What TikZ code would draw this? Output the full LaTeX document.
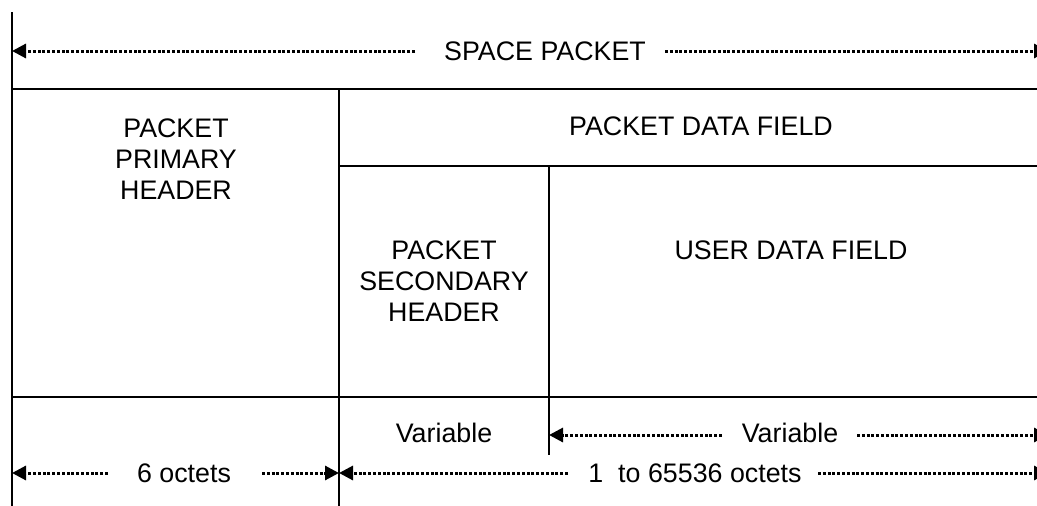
\documentclass[tikz,border=0pt]{standalone}
\usepackage{fontspec}
\setmainfont{Liberation Sans}
\usetikzlibrary{arrows.meta}
\begin{document}
\begin{tikzpicture}[x=1pt,y=-1pt,
  frame/.style={line width=2.8pt},
  dim/.style={line width=3pt, dash pattern=on 3pt off 1.8pt, -{Triangle[length=14pt,width=14pt]}},
  lbl/.style={font=\fontsize{26.8}{31}\selectfont, inner sep=0pt, align=center}]
\path[use as bounding box] (0,0) rectangle (1037,506);
\clip (0,0) rectangle (1037,506);
% frame lines
\coordinate (LT) at (12,12);
\coordinate (LB) at (12,506);
\coordinate (H1L) at (12,89);
\coordinate (H1R) at (1037,89);
\coordinate (V1T) at (339,89);
\coordinate (V1B) at (339,506);
\coordinate (H2L) at (339,166);
\coordinate (H2R) at (1037,166);
\coordinate (V2T) at (549,166);
\coordinate (V2B) at (549,455);
\coordinate (H3L) at (12,397);
\coordinate (H3R) at (1037,397);
\draw[frame] (LT) -- (LB);
\draw[frame] (H1L) -- (H1R);
\draw[frame] (V1T) -- (V1B);
\draw[frame] (H2L) -- (H2R);
\draw[frame] (V2T) -- (V2B);
\draw[frame] (H3L) -- (H3R);
% labels
\node[lbl, anchor=base] (sp) at (545,60) {SPACE PACKET};
\node[lbl] (pph) at (176,159) {PACKET\\PRIMARY\\HEADER};
\node[lbl, anchor=base] (pdf) at (701,135) {PACKET DATA FIELD};
\node[lbl] (psh) at (444,281) {PACKET\\SECONDARY\\HEADER};
\node[lbl, anchor=base] (udf) at (791,259) {USER DATA FIELD};
\node[lbl, anchor=base] (var1) at (444,442) {Variable};
\node[lbl, anchor=base] (var2) at (790,442) {Variable};
\node[lbl, anchor=base] (six) at (184,482) {6 octets};
\node[lbl, anchor=base] (oct) at (695,482) {1\ \ to 65536 octets};
% dimension arrows
\coordinate (a1) at (415,51);  \coordinate (a1t) at (12,51);
\coordinate (a2) at (665,51);  \coordinate (a2t) at (1048,51);
\coordinate (b1) at (722,435); \coordinate (b1t) at (549,435);
\coordinate (b2) at (857,435); \coordinate (b2t) at (1048,435);
\coordinate (c1) at (108,473); \coordinate (c1t) at (12,473);
\coordinate (c2) at (262,473); \coordinate (c2t) at (339,473);
\coordinate (d1) at (568,473); \coordinate (d1t) at (339,473);
\coordinate (d2) at (818,473); \coordinate (d2t) at (1048,473);
\draw[dim] (a1) -- (a1t);
\draw[dim] (a2) -- (a2t);
\draw[dim] (b1) -- (b1t);
\draw[dim] (b2) -- (b2t);
\draw[dim] (c1) -- (c1t);
\draw[dim] (c2) -- (c2t);
\draw[dim] (d1) -- (d1t);
\draw[dim] (d2) -- (d2t);
\end{tikzpicture}
\end{document}
